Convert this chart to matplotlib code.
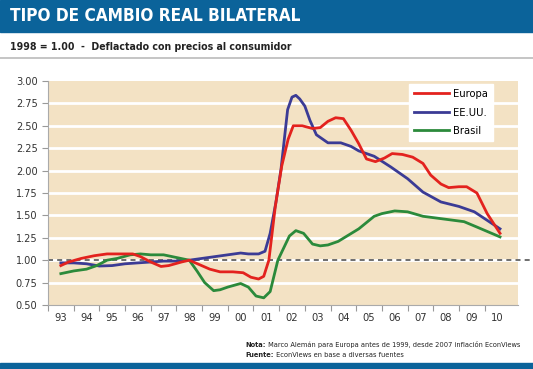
import matplotlib
matplotlib.use("Agg")
import matplotlib.pyplot as plt
import numpy as np

plt.rcParams["font.family"] = ["DejaVu Sans"]
plt.rcParams["font.stretch"] = "condensed"

# series: (year, value), 1998 = 1.00
eur_x = [1993.5, 1993.8, 1994.3, 1994.8, 1995.3, 1995.8, 1996.3, 1996.6, 1997.0, 1997.4,
         1997.7, 1998.2, 1998.5, 1998.9, 1999.3, 1999.7, 2000.2, 2000.6, 2000.9, 2001.2,
         2001.4, 2001.6, 2001.85, 2002.1, 2002.35, 2002.55, 2002.9, 2003.3, 2003.6, 2003.9,
         2004.2, 2004.5, 2004.8, 2005.1, 2005.4, 2005.75, 2006.1, 2006.4, 2006.8, 2007.2,
         2007.6, 2007.9, 2008.3, 2008.6, 2009.0, 2009.3, 2009.7, 2010.1, 2010.6]
eur_y = [0.94, 0.98, 1.02, 1.05, 1.07, 1.07, 1.07, 1.04, 0.98, 0.93,
         0.94, 0.98, 1.00, 0.95, 0.90, 0.87, 0.87, 0.86, 0.81, 0.79,
         0.82, 1.00, 1.60, 2.05, 2.35, 2.50, 2.50, 2.47, 2.48, 2.55,
         2.59, 2.58, 2.45, 2.30, 2.13, 2.10, 2.14, 2.19, 2.18, 2.15,
         2.08, 1.95, 1.85, 1.81, 1.82, 1.82, 1.75, 1.52, 1.30]

usa_x = [1993.5, 1994.0, 1994.5, 1995.0, 1995.5, 1996.0, 1996.5, 1997.0, 1997.5, 1998.0,
         1998.5, 1999.0, 1999.5, 2000.0, 2000.5, 2000.8, 2001.2, 2001.45, 2001.65, 2001.87,
         2002.07, 2002.33, 2002.5, 2002.65, 2002.8, 2003.0, 2003.2, 2003.45, 2003.9, 2004.4,
         2004.8, 2005.1, 2005.7, 2006.35, 2007.0, 2007.6, 2008.3, 2009.0, 2009.6, 2010.6]
usa_y = [0.97, 0.97, 0.96, 0.935, 0.94, 0.96, 0.97, 0.98, 0.99, 0.99,
         1.00, 1.02, 1.04, 1.06, 1.08, 1.07, 1.07, 1.10, 1.30, 1.64,
         2.01, 2.68, 2.82, 2.84, 2.80, 2.72, 2.56, 2.40, 2.31, 2.31,
         2.27, 2.22, 2.16, 2.04, 1.91, 1.76, 1.65, 1.60, 1.54, 1.35]

bra_x = [1993.5, 1994.0, 1994.5, 1994.9, 1995.3, 1995.7, 1996.2, 1996.6, 1997.0, 1997.5,
         1998.0, 1998.5, 1998.8, 1999.1, 1999.45, 1999.7, 2000.0, 2000.5, 2000.8, 2001.1,
         2001.4, 2001.65, 2001.95, 2002.2, 2002.4, 2002.65, 2002.95, 2003.3, 2003.6, 2003.9,
         2004.3, 2004.7, 2005.1, 2005.7, 2006.0, 2006.5, 2007.0, 2007.6, 2008.4, 2009.2,
         2009.7, 2010.6]
bra_y = [0.85, 0.88, 0.90, 0.94, 1.00, 1.02, 1.06, 1.07, 1.06, 1.06,
         1.03, 1.00, 0.88, 0.75, 0.66, 0.67, 0.70, 0.74, 0.70, 0.60,
         0.58, 0.65, 1.00, 1.15, 1.27, 1.33, 1.30, 1.18, 1.16, 1.17,
         1.21, 1.28, 1.35, 1.49, 1.52, 1.55, 1.54, 1.49, 1.46, 1.43,
         1.37, 1.26]

year_labels = ["93", "94", "95", "96", "97", "98", "99", "00", "01",
               "02", "03", "04", "05", "06", "07", "08", "09", "10"]
yticks = [0.50, 0.75, 1.00, 1.25, 1.50, 1.75, 2.00, 2.25, 2.50, 2.75, 3.00]

blue_bar = "#0B639A"
beige = "#F3E2C4"
txt = "#222222"

fig = plt.figure(figsize=(5.33, 3.69), dpi=100)

# header band and subtitle
fig.patches.append(plt.Rectangle((0, 1 - 32 / 369), 1, 32 / 369, transform=fig.transFigure,
                                 color=blue_bar, zorder=0))
fig.text(10 / 533, 1 - 16 / 369, "TIPO DE CAMBIO REAL BILATERAL", color="white",
         fontsize=12.3, fontweight="bold", va="center", ha="left")
fig.text(10 / 533, 1 - 47 / 369, "1998 = 1.00  -  Deflactado con precios al consumidor",
         color=txt, fontsize=7.6, fontweight="bold", va="center", ha="left")
fig.lines.append(plt.Line2D([0, 1], [1 - 58 / 369, 1 - 58 / 369], transform=fig.transFigure,
                            color="#BBBBBB", lw=1.2))
fig.patches.append(plt.Rectangle((0, 0), 1, 6 / 369, transform=fig.transFigure,
                                 color=blue_bar, zorder=0))

ax = fig.add_axes([48 / 533, 1 - 305 / 369, 470 / 533, 224 / 369])
ax.set_facecolor(beige)
ax.set_xlim(1993, 2011.3)
ax.set_ylim(0.5, 3.0)

for v in yticks[1:-1]:
    ax.axhline(v, color="white", lw=2, zorder=1)
ax.axhline(1.0, xmin=0, xmax=1.03, color="#555555", lw=1.2, ls=(0, (3, 2.5)), zorder=2,
           clip_on=False)

ax.plot(eur_x, eur_y, color="#E3221E", lw=2, label="Europa", zorder=4, solid_joinstyle="round")
ax.plot(usa_x, usa_y, color="#3B3B95", lw=2, label="EE.UU.", zorder=3, solid_joinstyle="round")
ax.plot(bra_x, bra_y, color="#2B8A3B", lw=2, label="Brasil", zorder=3, solid_joinstyle="round")

ax.set_yticks(yticks)
ax.set_yticklabels([f"{v:.2f}" for v in yticks])
years = np.arange(1993, 2011)
ax.set_xticks(years)
ax.set_xticklabels([])
ax.set_xticks(years + 0.5, minor=True)
ax.set_xticklabels(year_labels, minor=True)
ax.tick_params(axis="x", which="major", length=4, color="#999999")
ax.tick_params(axis="x", which="minor", length=0, labelsize=8, colors="#333333", pad=6)
ax.tick_params(axis="y", length=4, color="#999999", labelsize=7.8, labelcolor="#333333")
for s in ["top", "right"]:
    ax.spines[s].set_visible(False)
for s in ["left", "bottom"]:
    ax.spines[s].set_color("#AAAAAA")
    ax.spines[s].set_linewidth(0.8)

leg = ax.legend(loc="upper right", bbox_to_anchor=(0.947, 0.985), frameon=True, fancybox=False,
                fontsize=8, handlelength=3.1, handletextpad=0.4, labelspacing=0.75,
                borderpad=0.45, borderaxespad=0)
leg.get_frame().set_edgecolor("white")
leg.get_frame().set_facecolor("white")
leg.get_frame().set_alpha(1)

# footnotes
t1 = fig.text(245 / 533, 1 - 345 / 369, "Nota:", fontsize=5.35, fontweight="bold",
              color=txt, va="center")
ax.annotate(" Marco Alemán para Europa antes de 1999, desde 2007 inflación EconViews",
            xy=(1, 0.5), xycoords=t1, va="center", ha="left", fontsize=5.35, color=txt,
            annotation_clip=False)
t2 = fig.text(245 / 533, 1 - 355 / 369, "Fuente:", fontsize=5.35, fontweight="bold",
              color=txt, va="center")
ax.annotate(" EconViews en base a diversas fuentes", xy=(1, 0.5), xycoords=t2, va="center",
            ha="left", fontsize=5.35, color=txt, annotation_clip=False)

fig.savefig("out.png", dpi=100)
